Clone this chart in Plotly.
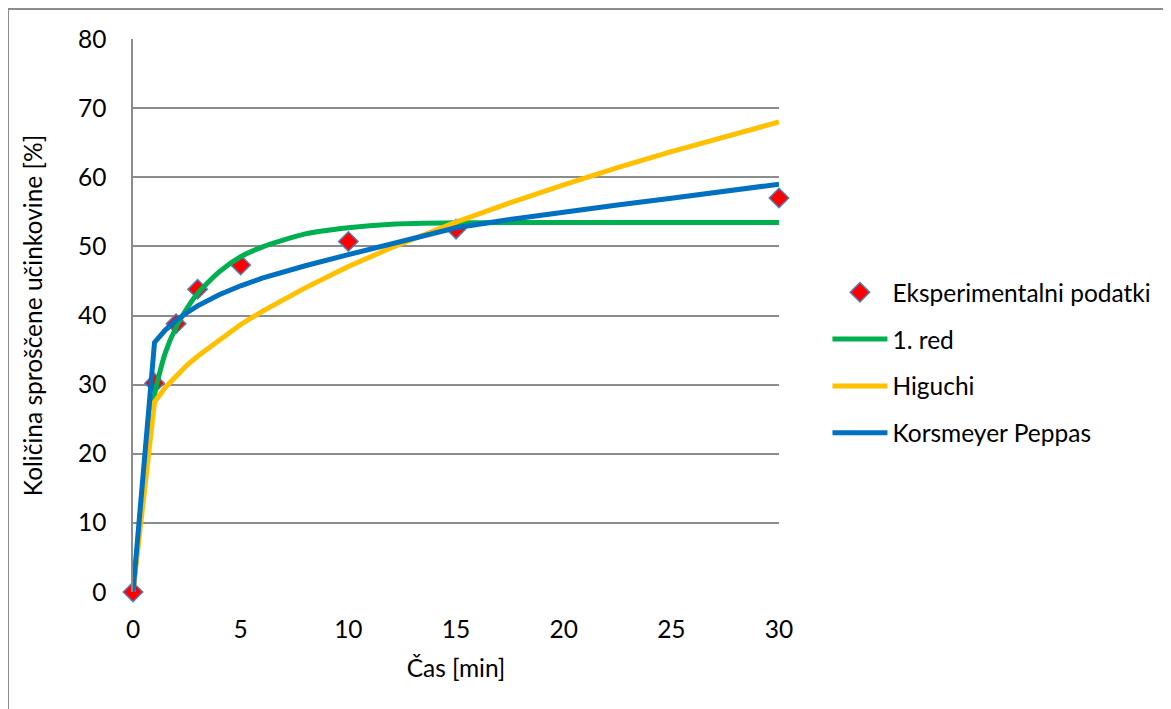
import plotly.graph_objects as go

# Experimental data
t_exp = [0, 1, 2, 3, 5, 10, 15, 30]
q_exp = [0, 30.2, 38.8, 43.8, 47.3, 50.7, 52.5, 57.0]

# Model curves
t_model = [0, 1, 1.5, 2, 2.5, 3, 4, 5, 6, 8, 10, 12, 15, 17.5, 20, 22.5, 25, 27.5, 30]
q_first = [0, 28.5, 34.6, 38.3, 41.0, 43.2, 46.3, 48.5, 49.9, 51.8, 52.7, 53.2, 53.4, 53.45, 53.45, 53.45, 53.45, 53.45, 53.45]
q_higuchi = [0, 27.5, 29.6, 31.3, 32.8, 34.1, 36.5, 38.7, 40.6, 44.0, 47.1, 49.8, 53.5, 56.3, 58.9, 61.4, 63.7, 65.9, 68.0]
q_peppas = [0, 36.1, 37.9, 39.3, 40.4, 41.4, 43.0, 44.3, 45.4, 47.2, 48.8, 50.3, 52.7, 53.9, 55.0, 56.0, 56.95, 58.0, 59.0]

x_ticks = [0, 5, 10, 15, 20, 25, 30]
y_ticks = [0, 10, 20, 30, 40, 50, 60, 70, 80]

FONT = "Lato"
FS = 24.5

fig = go.Figure()
fig.add_trace(go.Scatter(
    x=t_exp, y=q_exp, mode="markers", name="Eksperimentalni podatki",
    legendgroup="a", cliponaxis=False,
    marker=dict(symbol="diamond", size=15, color="#FF0000",
                line=dict(color="#4F81BD", width=1.5)),
))
fig.add_trace(go.Scatter(
    x=t_model, y=q_first, mode="lines", name="1. red", legendgroup="b",
    line=dict(color="#00B050", width=5, shape="spline", smoothing=0.6),
))
fig.add_trace(go.Scatter(
    x=t_model, y=q_higuchi, mode="lines", name="Higuchi", legendgroup="c",
    line=dict(color="#FFC000", width=5),
))
fig.add_trace(go.Scatter(
    x=t_model, y=q_peppas, mode="lines", name="Korsmeyer Peppas", legendgroup="d",
    line=dict(color="#0070C0", width=5),
))

fig.update_layout(
    width=1171, height=709,
    margin=dict(l=125, r=400, t=31, b=125),
    paper_bgcolor="white", plot_bgcolor="white",
    font=dict(family=FONT, size=FS, color="#000000"),
    showlegend=True,
    legend=dict(
        x=1.075, xanchor="left", y=0.4145, yanchor="middle",
        font=dict(family=FONT, size=FS), tracegroupgap=12,
        bgcolor="rgba(0,0,0,0)", itemwidth=55,
    ),
    shapes=[dict(
        type="rect", xref="paper", yref="paper",
        x0=-0.1935, x1=1.8, y0=-0.6, y1=1.0542,
        line=dict(color="#8C8C8C", width=2), fillcolor="rgba(0,0,0,0)",
        layer="below",
    )],
)

fig.update_xaxes(
    range=[0, 30], tickvals=x_ticks, ticktext=[str(v) for v in x_ticks],
    showgrid=False, zeroline=False, showline=False,
    ticks="", ticklabelstandoff=20,
    tickfont=dict(family=FONT, size=FS),
    title=dict(text="Čas [min]", font=dict(family=FONT, size=FS), standoff=18),
)
fig.update_yaxes(
    range=[0, 80], tickvals=y_ticks, ticktext=[str(v) for v in y_ticks],
    showgrid=True, gridcolor="#8C8C8C", gridwidth=1.5,
    zeroline=False, showline=True, linecolor="#8C8C8C", linewidth=1.5,
    ticks="", ticklabelstandoff=20,
    tickfont=dict(family=FONT, size=FS),
    title=dict(text="Količina sproščene učinkovine [%]", font=dict(family=FONT, size=FS), standoff=28),
)

fig.write_html("out.html")
